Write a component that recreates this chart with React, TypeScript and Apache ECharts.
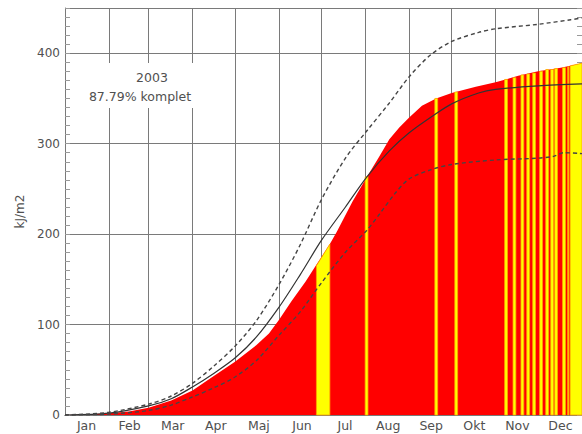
import React, { useEffect, useRef } from "react";
import * as echarts from "echarts";

// Month labels and month boundaries (day of year)
const MONTHS = ["Jan", "Feb", "Mar", "Apr", "Maj", "Jun", "Jul", "Aug", "Sep", "Okt", "Nov", "Dec"];
const MONTH_ENDS = [31, 59, 90, 120, 151, 181, 212, 243, 273, 304, 334];

// Measured cumulative radiation 2003 (kJ/m2), red area
const cumDays = [0, 15, 31, 45, 59, 75, 90, 104, 120, 135, 144, 151, 160, 170, 177, 187, 192, 203, 213, 222, 229, 236, 243, 252, 262, 273, 290, 304, 320, 334, 350, 365];
const cumValues = [0, 0.5, 2, 4, 8, 16, 27, 42, 59, 77, 90, 105, 126, 148, 165, 189, 203, 236, 263, 286, 305, 318, 329, 342, 350, 356, 363, 368, 375, 380, 384, 389];

// Mean (solid line)
const meanDays = [0, 31, 59, 75, 90, 105, 120, 135, 151, 166, 181, 198, 213, 229, 243, 259, 273, 292, 304, 334, 365];
const meanValues = [0, 2, 10, 18, 31, 46, 63, 86, 119, 155, 193, 230, 263, 292, 312, 330, 344, 356, 360, 364, 366];

// Upper envelope (dashed)
const upDays = [0, 31, 59, 75, 90, 105, 120, 135, 151, 166, 181, 198, 213, 229, 243, 258, 273, 292, 304, 334, 357, 365];
const upValues = [0, 3, 12, 21, 35, 54, 76, 104, 144, 188, 238, 284, 314, 345, 374, 398, 413, 423, 427, 432, 437, 439];

// Lower envelope (dashed)
const lowDays = [0, 31, 59, 75, 90, 105, 120, 135, 151, 166, 181, 198, 213, 222, 233, 243, 258, 273, 304, 334, 345, 352, 365];
const lowValues = [0, 1, 5, 11, 20, 30, 42, 60, 88, 114, 146, 180, 204, 222, 245, 261, 271, 277, 282, 284, 286, 290, 289];

// Missing-data spans (yellow): start day, end day, top value at start, top value at end
const missingStart = [177.5, 211.9, 261.1, 275.2, 310.4, 316.3, 321.9, 326.0, 330.2, 335.1, 339.4, 342.9, 345.7, 351.3, 354.9, 356.6];
const missingEnd = [187.0, 213.9, 263.1, 277.2, 312.4, 318.3, 323.9, 328.0, 332.2, 337.1, 341.4, 344.9, 347.7, 353.3, 355.7, 365.0];
const missingTopStart = [165, 263, 350, 357, 371, 373, 376, 377, 378, 380, 382, 382, 383, 384, 385, 386];
const missingTopEnd = [189, 264, 350, 357, 371, 373, 376, 377, 378, 380, 382, 382, 383, 384, 385, 389];

const TEXT_COLOR = "#505050";
const GRID_COLOR = "#7a7a7a";
const FONT = "DejaVu Sans";

export default function App() {
  const ref = useRef<HTMLDivElement>(null);

  useEffect(() => {
    if (!ref.current) return;
    const chart = echarts.init(ref.current, undefined, { renderer: "svg" });

    const pairs = (xs: number[], ys: number[]) => xs.map((x, i) => [x, ys[i]]);
    const missing = missingStart.map((s, i) => [s, missingEnd[i], missingTopStart[i], missingTopEnd[i]]);

    const minorAxis = (pos: "left" | "right") => ({
      type: "value",
      min: 0,
      max: 450,
      interval: 10,
      position: pos,
      axisLine: { show: false },
      axisTick: { show: true, inside: true, length: 5, lineStyle: { color: "#999999", width: 1 } },
      axisLabel: { show: false },
      splitLine: { show: false },
    });

    chart.setOption({
      animation: false,
      backgroundColor: "#ffffff",
      grid: { left: 65, top: 8, width: 518, height: 407 },
      xAxis: [
        {
          type: "value",
          min: 0,
          max: 365,
          position: "bottom",
          axisLine: { show: true, lineStyle: { color: GRID_COLOR, width: 1 } },
          axisTick: { show: false },
          axisLabel: { show: false },
          splitLine: { show: false },
        },
        {
          type: "category",
          data: MONTHS,
          position: "bottom",
          boundaryGap: true,
          axisLine: { show: false },
          axisTick: { show: false },
          axisLabel: { interval: 0, color: TEXT_COLOR, fontSize: 12.5, fontFamily: FONT, margin: 4 },
          splitLine: { show: false },
        },
        {
          type: "value",
          min: 0,
          max: 365,
          position: "top",
          axisLine: { show: true, lineStyle: { color: GRID_COLOR, width: 1 } },
          axisTick: { show: false },
          axisLabel: { show: false },
          splitLine: { show: false },
        },
      ],
      yAxis: [
        {
          type: "value",
          min: 0,
          max: 450,
          interval: 100,
          position: "left",
          name: "kJ/m2",
          nameLocation: "middle",
          nameRotate: 90,
          nameGap: 38,
          nameTextStyle: { color: TEXT_COLOR, fontSize: 12, fontFamily: FONT },
          axisLine: { show: true, lineStyle: { color: GRID_COLOR, width: 1 } },
          axisTick: { show: true, inside: true, length: 8, lineStyle: { color: GRID_COLOR } },
          axisLabel: { color: TEXT_COLOR, fontSize: 12, fontFamily: FONT, margin: 5, showMaxLabel: false },
          splitLine: { show: true, lineStyle: { color: GRID_COLOR, width: 1 } },
        },
        minorAxis("left"),
        minorAxis("right"),
      ],
      series: [
        {
          name: "grid",
          type: "line",
          data: [[0, 0]],
          symbol: "none",
          lineStyle: { opacity: 0 },
          silent: true,
          z: 1,
          markLine: {
            z: 1,
            silent: true,
            symbol: ["none", "none"],
            label: { show: false },
            lineStyle: { color: GRID_COLOR, type: "solid", width: 1 },
            data: MONTH_ENDS.map((d) => ({ xAxis: d })),
          },
        },
        {
          name: "2003",
          type: "line",
          data: pairs(cumDays, cumValues),
          symbol: "none",
          lineStyle: { width: 0 },
          areaStyle: { color: "#ff0000", opacity: 1 },
          z: 2,
        },
        {
          name: "missing",
          type: "custom",
          data: missing,
          z: 3,
          renderItem: (_params: any, api: any) => {
            const s = api.value(0);
            const e = api.value(1);
            const ts = api.value(2);
            const te = api.value(3);
            const pts = [api.coord([s, 0]), api.coord([s, ts]), api.coord([e, te]), api.coord([e, 0])];
            return {
              type: "polygon",
              shape: { points: pts },
              style: { fill: "#ffff00", stroke: "#ffa500", lineWidth: 0.8 },
            };
          },
        },
        {
          name: "mean",
          type: "line",
          data: pairs(meanDays, meanValues),
          symbol: "none",
          smooth: 0.3,
          lineStyle: { color: "#333333", width: 1.2 },
          z: 4,
        },
        {
          name: "upper",
          type: "line",
          data: pairs(upDays, upValues),
          symbol: "none",
          smooth: 0.3,
          lineStyle: { color: "#454545", width: 1.4, type: [4, 3] },
          z: 4,
        },
        {
          name: "lower",
          type: "line",
          data: pairs(lowDays, lowValues),
          symbol: "none",
          smooth: 0.3,
          lineStyle: { color: "#454545", width: 1.4, type: [4, 3] },
          z: 4,
        },
      ],
      graphic: [
        {
          type: "rect",
          shape: { x: 82, y: 63, width: 136, height: 45 },
          style: { fill: "#ffffff" },
          z: 100,
        },
        {
          type: "text",
          x: 152,
          y: 77,
          z: 101,
          style: { text: "2003", align: "center", verticalAlign: "middle", font: `12.5px "${FONT}"`, fill: TEXT_COLOR },
        },
        {
          type: "text",
          x: 140,
          y: 96,
          z: 101,
          style: { text: "87.79% komplet", align: "center", verticalAlign: "middle", font: `12.5px "${FONT}"`, fill: TEXT_COLOR },
        },
      ],
    });

    return () => chart.dispose();
  }, []);

  return (
    <div
      ref={ref}
      style={{ position: "fixed", left: 0, top: 0, width: 582, height: 434, background: "#fff" }}
    />
  );
}
